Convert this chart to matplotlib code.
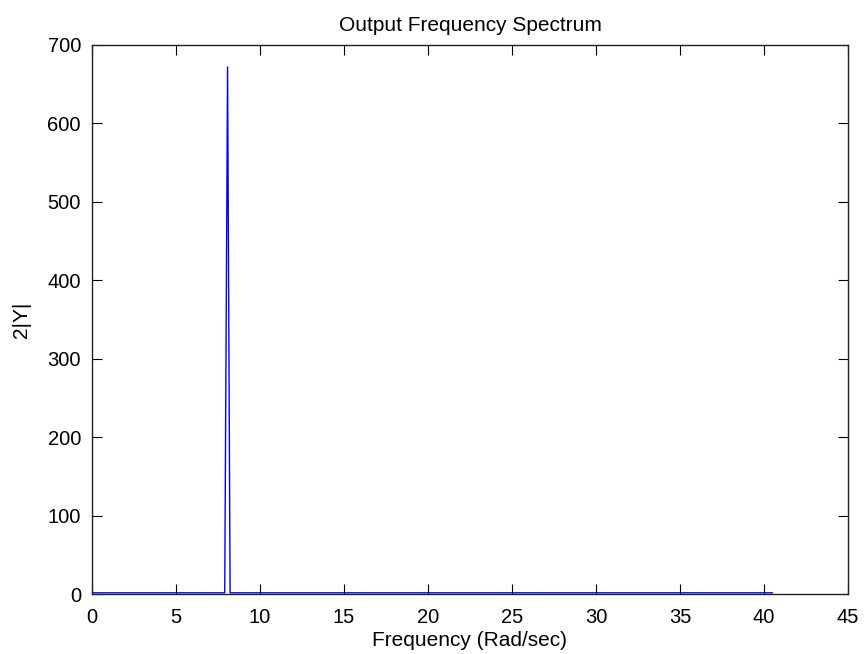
import numpy as np
import matplotlib
matplotlib.use("Agg")
import matplotlib.pyplot as plt

# spectrum: flat floor with one narrow peak near 8 rad/s
freq = [0.0, 7.9, 8.07, 8.22, 40.5]
mag2 = [1.5, 1.5, 672.0, 1.5, 1.5]

x_ticks = [0, 5, 10, 15, 20, 25, 30, 35, 40, 45]
y_ticks = [0, 100, 200, 300, 400, 500, 600, 700]

plt.rcParams['font.family'] = ['Liberation Sans', 'DejaVu Sans']

fig = plt.figure(figsize=(8.64, 6.54), dpi=100)
ax = fig.add_axes([92/864, 60/654, 756/864, 549/654])

ax.plot(freq, mag2, color='#0000ff', linewidth=1.0)

ax.set_xlim(0, 45)
ax.set_ylim(0, 700)
ax.set_xticks(x_ticks)
ax.set_yticks(y_ticks)
ax.tick_params(direction='in', length=7, width=0.8, labelsize=14.5, pad=8,
               top=True, right=True)
ax.tick_params(axis='x', pad=10)
for s in ax.spines.values():
    s.set_linewidth(1.0)
    s.set_color('#222222')

ax.set_title("Output Frequency Spectrum", fontsize=15, pad=10)
ax.set_xlabel("Frequency (Rad/sec)", fontsize=15, labelpad=3)
ax.set_ylabel("2|Y|", fontsize=15, labelpad=12)

fig.savefig("out.png", dpi=100)
